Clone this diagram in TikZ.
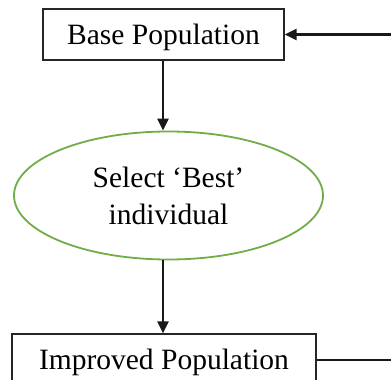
\documentclass[tikz,border=0pt]{standalone}
\usepackage{fontspec}
\setmainfont{Liberation Serif}
\usetikzlibrary{arrows.meta,shapes.geometric}
\definecolor{leafgreen}{HTML}{70AD47}
\tikzset{
  flowbox/.style={draw=black!85, line width=1.2pt, rectangle, inner sep=0pt, minimum height=51pt},
  choice/.style={draw=leafgreen, line width=1.8pt, ellipse, inner sep=0pt, minimum width=309pt, minimum height=128pt, align=center},
  flow/.style={draw=black!90, line width=2.2pt, -{Triangle[length=12pt,width=11pt]}},
  plain/.style={draw=black!90, line width=2.2pt},
  lbl/.style={font=\fontsize{29.5}{37}\selectfont},
  boxtext/.style={label={[lbl, yshift=-3pt]center:#1}}
}
\begin{document}
\begin{tikzpicture}[x=1pt,y=-1pt]
  \useasboundingbox (0,0) rectangle (391,380);
  \node[flowbox, minimum width=241pt, boxtext={Base Population}] (base) at (163.5,34.5) {};
  \node[choice, lbl] (sel) at (168.5,195.5) {Select ‘Best’\\individual};
  \node[flowbox, minimum width=304pt, boxtext={Improved Population}] (imp) at (164,359.5) {};
  \coordinate (colx) at (163,0);
  \coordinate (inR) at (391,34.5);
  \coordinate (outR) at (391,360);
  \draw[flow] (inR) -- (base.east);
  \draw[flow] (base.south -| colx) -- (sel.north -| colx);
  \draw[flow] (sel.south -| colx) -- (imp.north -| colx);
  \draw[plain] (imp.east |- outR) -- (outR);
\end{tikzpicture}
\end{document}
